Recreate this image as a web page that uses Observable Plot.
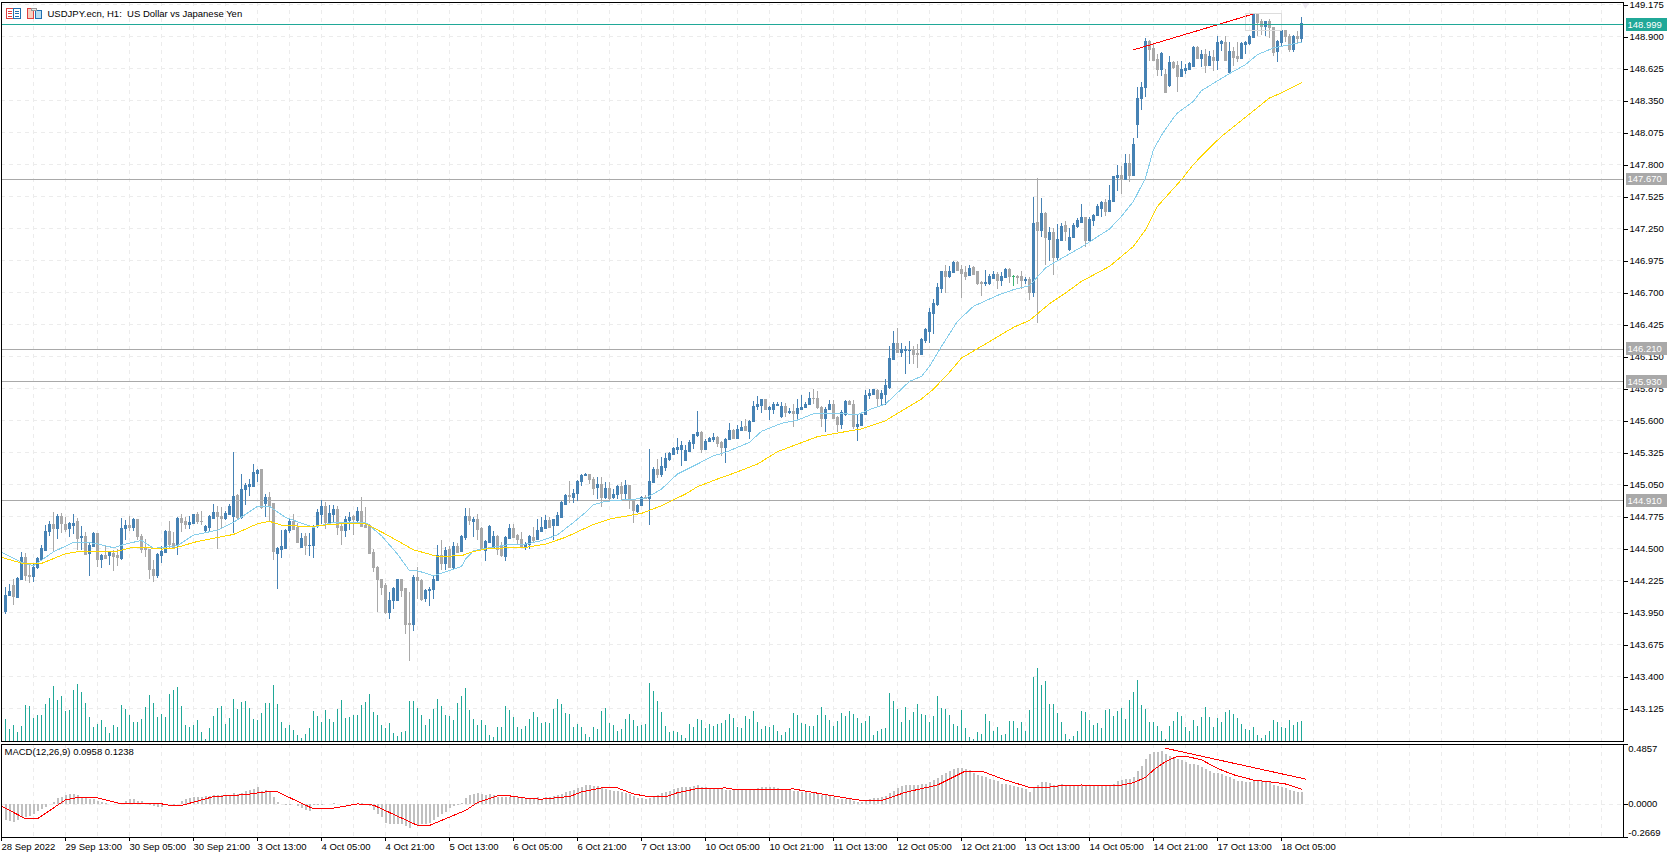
<!DOCTYPE html>
<html><head><meta charset="utf-8">
<script src="https://cdn.jsdelivr.net/npm/d3@7"></script>
<script src="https://cdn.jsdelivr.net/npm/@observablehq/plot@0.6"></script>
<style>
html,body{margin:0;padding:0;background:#fff;overflow:hidden}
#chart{position:relative;width:1674px;height:855px}
#chart svg{position:absolute;left:0;max-width:none;white-space:pre}
</style></head><body><div id="chart"></div>
<script>
const title="USDJPY.ecn, H1:  US Dollar vs Japanese Yen";
const macdTitle="MACD(12,26,9) 0.0958 0.1238";
const priceTicks=[149.175,148.9,148.625,148.35,148.075,147.8,147.525,147.25,146.975,146.7,146.425,146.15,145.875,145.6,145.325,145.05,144.775,144.5,144.225,143.95,143.675,143.4,143.125];
const macdTicks=[0.4857,0,-0.2669];
const timeLabels=["28 Sep 2022","29 Sep 13:00","30 Sep 05:00","30 Sep 21:00","3 Oct 13:00","4 Oct 05:00","4 Oct 21:00","5 Oct 13:00","6 Oct 05:00","6 Oct 21:00","7 Oct 13:00","10 Oct 05:00","10 Oct 21:00","11 Oct 13:00","12 Oct 05:00","12 Oct 21:00","13 Oct 13:00","14 Oct 05:00","14 Oct 21:00","17 Oct 13:00","18 Oct 05:00"];
const grayLevels=[147.67,146.21,145.93,144.91];
const bidLevel=148.999;
// candle direction: u up, d down, n doji
const directions=["uuduuddu"+"uu","uududduudu","duudududdu","ududddddu"+"u","uddudduudd","uuuddu"+"uudu","uuuududdu"+"u","uudduduuuu","duudduudud","dddddduuud","dduddu"+"uuud","ududuududd","uuudduuddd","uuduuuduuu","uduuuudd"+"ud","uduududduu","duuduuuuuu","uuuuduuudd","uuduuduuuu","duuuududuu","uuddduuddu","uddu"+"uuuudu","uuuduuuddu","uuuuuduudd","duddduuudu","udnddududu","duduuduuuu","duuuuduuud","uduuuuddd"+"u","dudduuuudu","duduududdu","uuuddudduu","ddudu"].join("");
const highs=[144.165,144.194,144.237,144.251,144.466,144.460,144.366,144.366,144.423,144.529,144.701,144.732,144.810,144.795,144.804,144.767,144.724,144.787,144.758,144.692,
144.638,144.538,144.638,144.624,144.449,144.523,144.477,144.480,144.489,144.758,144.738,144.775,144.758,144.747,144.621,144.580,144.489,144.394,144.452,144.517,
144.652,144.727,144.638,144.767,144.795,144.767,144.772,144.795,144.810,144.815,144.701,144.781,144.881,144.861,144.853,144.815,144.873,145.325,144.967,145.139,
145.059,145.096,145.217,145.176,145.182,144.959,144.976,144.890,144.509,144.652,144.666,144.752,144.795,144.718,144.624,144.624,144.632,144.695,144.838,144.910,
144.896,144.867,144.867,144.861,144.724,144.775,144.810,144.781,144.853,144.939,144.853,144.709,144.494,144.346,144.237,144.202,144.122,144.168,144.237,144.237,
144.159,144.122,144.271,144.337,144.237,144.145,144.162,144.265,144.523,144.566,144.509,144.518,144.552,144.538,144.615,144.847,144.847,144.767,144.787,144.681,
144.566,144.701,144.644,144.609,144.551,144.600,144.709,144.709,144.623,144.637,144.551,144.609,144.680,144.746,144.766,144.780,144.766,144.752,144.809,144.901,
144.967,145.078,145.010,145.081,145.136,145.144,145.139,145.110,145.110,145.110,145.067,145.067,145.004,145.038,145.067,145.081,145.044,144.924,144.878,144.947,
144.958,145.353,145.196,145.267,145.282,145.316,145.325,145.365,145.448,145.416,145.388,145.431,145.482,145.674,145.505,145.439,145.454,145.485,145.459,145.416,
145.445,145.577,145.525,145.554,145.591,145.611,145.597,145.763,145.806,145.783,145.783,145.720,145.755,145.755,145.755,145.746,145.703,145.740,145.783,145.812,
145.755,145.840,145.869,145.852,145.717,145.712,145.769,145.769,145.631,145.689,145.769,145.769,145.769,145.640,145.669,145.855,145.863,145.869,145.869,145.855,
145.955,146.236,146.365,146.385,146.259,146.236,146.281,146.236,146.250,146.307,146.393,146.559,146.637,146.780,146.880,146.929,146.923,146.966,146.966,146.929,
146.923,146.929,146.923,146.877,146.791,146.886,146.849,146.877,146.872,146.872,146.906,146.903,146.843,146.843,146.880,146.829,146.826,147.513,147.674,147.505,
147.382,147.253,147.247,147.281,147.290,147.307,147.247,147.290,147.333,147.453,147.341,147.339,147.367,147.453,147.482,147.496,147.617,147.697,147.788,147.783,
147.883,147.883,148.023,148.461,148.501,148.877,148.863,148.828,148.742,148.757,148.613,148.725,148.685,148.679,148.679,148.656,148.676,148.814,148.814,148.779,
148.785,148.765,148.779,148.897,148.863,148.894,148.845,148.800,148.848,148.848,148.857,148.906,149.092,149.092,149.043,149.029,149.043,148.974,148.863,148.957,
148.949,148.914,148.906,148.943,149.060];
const bodyHighs=[144.099,144.128,144.185,144.245,144.426,144.426,144.271,144.340,144.409,144.503,144.649,144.709,144.709,144.770,144.770,144.709,144.712,144.718,144.727,144.598,
144.598,144.523,144.624,144.624,144.443,144.443,144.463,144.460,144.443,144.675,144.701,144.701,144.747,144.744,144.601,144.500,144.489,144.323,144.446,144.472,
144.644,144.641,144.538,144.758,144.758,144.727,144.724,144.787,144.787,144.735,144.689,144.770,144.810,144.810,144.775,144.804,144.856,144.947,144.953,145.010,
145.039,145.045,145.148,145.168,145.176,144.933,144.933,144.890,144.503,144.520,144.658,144.735,144.735,144.678,144.589,144.598,144.529,144.678,144.810,144.864,
144.864,144.804,144.838,144.838,144.684,144.752,144.767,144.770,144.818,144.821,144.695,144.695,144.466,144.337,144.234,144.177,144.053,144.159,144.231,144.231,
144.159,143.859,144.254,144.254,144.228,144.139,144.151,144.237,144.443,144.443,144.486,144.494,144.515,144.518,144.598,144.770,144.770,144.752,144.752,144.675,
144.558,144.689,144.600,144.603,144.523,144.594,144.674,144.674,144.609,144.580,144.537,144.600,144.594,144.657,144.683,144.743,144.743,144.746,144.786,144.895,
144.952,144.952,144.975,145.075,145.130,145.139,145.133,145.096,145.053,145.053,145.018,145.018,144.967,145.032,145.030,145.038,145.038,144.924,144.872,144.941,
144.938,145.078,145.182,145.182,145.204,145.273,145.316,145.359,145.365,145.388,145.345,145.411,145.477,145.499,145.497,145.422,145.445,145.456,145.454,145.411,
145.436,145.517,145.517,145.520,145.540,145.551,145.591,145.723,145.732,145.775,145.775,145.709,145.732,145.740,145.717,145.717,145.680,145.680,145.703,145.714,
145.740,145.792,145.792,145.792,145.712,145.697,145.740,145.740,145.625,145.669,145.760,145.760,145.740,145.568,145.651,145.817,145.835,145.863,145.855,145.829,
145.903,146.130,146.259,146.259,146.207,146.207,146.204,146.198,146.173,146.293,146.379,146.525,146.602,146.740,146.877,146.877,146.877,146.955,146.955,146.895,
146.869,146.903,146.912,146.877,146.783,146.783,146.834,146.852,146.852,146.834,146.895,146.895,146.834,146.834,146.834,146.809,146.809,147.290,147.299,147.376,
147.376,147.213,147.213,147.152,147.264,147.273,147.170,147.273,147.316,147.341,147.341,147.324,147.359,147.436,147.473,147.473,147.488,147.691,147.703,147.703,
147.806,147.806,147.974,148.367,148.461,148.857,148.857,148.794,148.699,148.748,148.570,148.673,148.673,148.648,148.613,148.622,148.665,148.805,148.805,148.742,
148.742,148.728,148.716,148.845,148.854,148.845,148.768,148.768,148.725,148.837,148.845,148.900,149.086,149.086,149.026,149.026,149.026,148.974,148.854,148.949,
148.949,148.897,148.897,148.894,149.009];
const bodyLows=[143.956,144.093,144.088,144.079,144.237,144.265,144.257,144.257,144.334,144.403,144.480,144.644,144.669,144.669,144.712,144.666,144.669,144.701,144.589,144.592,
144.449,144.452,144.518,144.406,144.406,144.409,144.443,144.434,144.420,144.417,144.669,144.678,144.678,144.601,144.489,144.489,144.317,144.271,144.271,144.437,
144.466,144.532,144.500,144.535,144.724,144.709,144.709,144.718,144.730,144.730,144.652,144.678,144.761,144.775,144.761,144.758,144.795,144.770,144.767,144.767,
145.005,145.028,145.036,145.142,144.853,144.884,144.867,144.472,144.460,144.494,144.503,144.652,144.661,144.552,144.509,144.523,144.523,144.523,144.689,144.792,
144.724,144.724,144.795,144.681,144.655,144.658,144.738,144.752,144.738,144.689,144.681,144.460,144.334,144.231,144.162,143.945,143.945,144.051,144.053,144.142,
143.850,143.847,143.844,144.228,144.065,144.071,144.134,144.145,144.228,144.366,144.366,144.337,144.337,144.466,144.472,144.595,144.738,144.735,144.666,144.489,
144.480,144.552,144.509,144.494,144.437,144.431,144.588,144.594,144.574,144.511,144.511,144.537,144.566,144.574,144.646,144.672,144.680,144.694,144.694,144.766,
144.881,144.947,144.941,144.969,145.075,145.124,145.096,145.015,145.021,144.938,144.938,144.932,144.941,144.961,144.975,144.972,144.929,144.823,144.815,144.866,
144.929,144.929,145.067,145.136,145.133,145.199,145.267,145.310,145.351,145.353,145.259,145.333,145.405,145.471,145.353,145.353,145.422,145.439,145.405,145.371,
145.371,145.434,145.448,145.445,145.517,145.511,145.505,145.591,145.717,145.726,145.692,145.692,145.697,145.729,145.631,145.669,145.669,145.663,145.663,145.697,
145.709,145.737,145.786,145.709,145.620,145.620,145.692,145.614,145.563,145.563,145.648,145.734,145.551,145.548,145.560,145.651,145.812,145.826,145.792,145.792,
145.826,145.880,146.121,146.184,146.184,146.196,146.196,146.164,146.167,146.164,146.287,146.365,146.516,146.594,146.731,146.834,146.834,146.872,146.886,146.860,
146.837,146.843,146.857,146.774,146.777,146.777,146.774,146.823,146.800,146.800,146.826,146.834,146.834,146.829,146.800,146.803,146.700,146.700,147.230,147.233,
147.167,147.152,146.998,146.998,147.144,147.221,147.064,147.170,147.264,147.299,147.144,147.144,147.316,147.356,147.422,147.393,147.393,147.479,147.685,147.668,
147.668,147.703,147.702,148.146,148.361,148.456,148.785,148.691,148.613,148.613,148.421,148.476,148.628,148.553,148.553,148.605,148.613,148.639,148.708,148.708,
148.648,148.648,148.691,148.691,148.837,148.691,148.588,148.716,148.708,148.708,148.828,148.837,148.888,149.017,148.983,148.983,148.974,148.757,148.768,148.845,
148.897,148.785,148.785,148.880,148.880];
const lows=[143.936,144.087,144.007,144.073,144.220,144.214,144.202,144.208,144.323,144.394,144.472,144.601,144.466,144.580,144.624,144.638,144.595,144.621,144.480,144.480,
144.437,144.257,144.509,144.337,144.331,144.403,144.357,144.305,144.346,144.394,144.572,144.649,144.649,144.566,144.460,144.423,144.237,144.208,144.243,144.374,
144.460,144.500,144.489,144.437,144.638,144.666,144.661,144.704,144.709,144.695,144.638,144.638,144.752,144.494,144.666,144.738,144.787,144.632,144.752,144.752,
144.867,144.942,145.033,145.068,144.838,144.767,144.730,144.394,144.151,144.409,144.500,144.632,144.652,144.552,144.500,144.443,144.429,144.409,144.672,144.709,
144.666,144.715,144.718,144.609,144.523,144.595,144.658,144.609,144.709,144.678,144.672,144.460,144.294,143.950,144.093,143.936,143.893,143.979,144.045,144.079,
143.764,143.526,143.784,144.065,144.048,144.036,143.999,144.065,144.220,144.308,144.308,144.328,144.323,144.460,144.466,144.566,144.695,144.595,144.566,144.480,
144.391,144.546,144.500,144.437,144.422,144.385,144.580,144.588,144.523,144.508,144.480,144.488,144.551,144.566,144.637,144.666,144.672,144.566,144.694,144.757,
144.875,144.889,144.889,144.904,145.032,145.118,145.053,144.952,144.918,144.852,144.918,144.909,144.918,144.918,144.901,144.909,144.838,144.717,144.803,144.861,
144.924,144.700,145.067,145.101,145.110,145.161,145.245,145.302,145.310,145.204,145.253,145.325,145.353,145.454,145.319,145.348,145.416,145.411,145.368,145.290,
145.233,145.431,145.439,145.434,145.511,145.505,145.439,145.583,145.683,145.663,145.683,145.603,145.648,145.720,145.620,145.625,145.648,145.540,145.591,145.692,
145.703,145.726,145.732,145.697,145.540,145.497,145.683,145.611,145.497,145.525,145.631,145.726,145.525,145.422,145.548,145.640,145.777,145.812,145.712,145.720,
145.726,145.863,146.121,146.178,146.144,145.992,146.078,146.078,146.044,146.155,146.259,146.264,146.336,146.580,146.694,146.688,146.823,146.860,146.880,146.651,
146.803,146.832,146.852,146.757,146.665,146.751,146.760,146.820,146.723,146.746,146.820,146.780,146.751,146.766,146.723,146.766,146.628,146.654,146.430,147.175,
146.929,146.963,146.843,146.975,147.138,147.138,147.052,147.164,147.250,147.296,147.087,147.138,147.267,147.350,147.347,147.353,147.387,147.468,147.568,147.539,
147.662,147.640,147.693,148.023,148.266,148.370,148.679,148.679,148.556,148.556,148.413,148.456,148.613,148.421,148.547,148.570,148.608,148.633,148.699,148.628,
148.579,148.642,148.599,148.605,148.771,148.685,148.579,148.636,148.673,148.699,148.742,148.822,148.880,148.900,148.906,148.900,148.885,148.728,148.673,148.814,
148.843,148.757,148.757,148.828,148.845];
// tick volume per bar
const volumes=[66,36,48,27,45,108,105,69,78,78,111,129,165,123,135,91,93,153,171,147,115,72,42,51,63,42,24,48,42,108,96,78,57,57,66,102,138,114,72,81,72,141,153,162,105,48,42,48,63,27,6,39,75,99,105,51,69,126,96,118,120,98,66,63,84,114,114,168,111,57,39,48,33,18,9,21,39,90,75,57,93,66,57,96,123,69,72,78,78,108,117,141,86,78,47,39,54,24,15,27,30,120,120,99,78,48,66,96,126,105,78,75,63,114,135,159,93,66,48,63,48,18,12,42,42,105,93,72,42,36,45,66,87,72,
55,57,55,96,126,111,84,81,42,51,42,21,12,42,36,90,99,54,48,30,36,66,81,63,45,48,51,174,150,120,87,45,27,30,27,18,9,51,42,66,63,39,51,45,51,54,63,81,69,42,39,75,66,90,57,36,45,42,48,30,18,27,39,84,78,54,51,45,45,78,102,78,63,45,60,84,75,90,81,69,54,60,75,18,30,36,39,144,120,96,57,102,63,87,111,81,78,57,75,135,99,96,78,51,45,93,39,12,6,27,21,81,60,30,42,18,21,60,60,39,57,30,93,192,219,168,180,111,111,84,
57,21,6,15,30,90,87,63,48,54,39,93,96,75,90,99,66,123,147,183,108,96,57,57,45,30,6,45,60,87,75,42,30,63,45,72,102,72,42,69,57,87,93,81,69,51,36,33,42,18,9,18,30,63,57,42,39,63,48,57,60];
const macd=[-.129,-.137,-.142,-.129,-.102,-.102,-.094,-.080,-.056,-.043,-.021,0,.019,.046,.059,.072,.080,.080,.072,.059,.048,.043,.038,.027,.016,.005,.003,.003,.005,.011,.024,.038,.043,.027,.021,.011,-.008,-.013,-.021,-.021,-.008,-.003,-.013,0,.024,.040,.048,.056,.059,.059,.064,.062,.070,.075,.070,.070,.072,.086,.078,.086,.107,.113,.121,.134,.107,.113,.094,.059,.019,0,-.005,-.008,-.003,-.016,-.035,-.048,-.054,-.008,-.008,-.008,-.003,0,.005,-.003,-.003,0,0,.003,.003,.005,.003,-.016,-.048,-.080,-.102,-.155,-.161,-.161,-.161,-.161,-.177,-.196,-.163,-.177,-.163,-.163,-.150,-.129,-.102,-.080,-.062,-.035,-.013,-.005,.011,.046,.072,.083,.086,.080,.075,.080,.072,.059,.054,.054,.059,.064,.054,.046,.046,.046,.046,.054,
.043,.056,.056,.067,.075,.080,.094,.105,.113,.131,.139,.153,.153,.145,.145,.134,.118,.113,.105,.102,.096,.091,.080,.064,.051,.046,.043,.051,.059,.072,.086,.096,.102,.118,.129,.134,.134,.134,.145,.150,.139,.134,.129,.129,.126,.118,.113,.113,.113,.118,.118,.118,.113,.121,.129,.134,.134,.134,.134,.129,.123,.118,.113,.105,.102,.096,.096,.091,.091,.083,.072,.075,.070,.054,.043,.040,.040,.040,.027,.016,.016,.032,.040,.046,.048,.056,.064,.086,.107,.129,.145,.153,.153,.153,.153,.161,.166,.177,.198,.214,.236,.252,.268,.284,.289,.289,.284,.273,.252,.236,.225,.220,.204,.193,.185,.166,.166,.153,.147,.139,.129,.118,.099,.137,.153,.177,.177,.172,.155,.155,
.161,.155,.155,.153,.150,.150,.150,.147,.147,.147,.147,.147,.150,.166,.185,.193,.201,.201,.217,.268,.306,.364,.402,.418,.421,.426,.402,.391,.375,.362,.354,.338,.322,.322,.314,.297,.281,.265,.249,.249,.241,.225,.217,.201,.185,.185,.177,.177,.185,.185,.185,.185,.177,.153,.145,.137,.129,.113,.105,.096,.0958];
const signalBars=[-1,5,8,15,18,23,29,38,42,44,52,60,65,68,77,81,88,92,103,106,115,118,123,126,131,134,139,141,144,149,153,157,161,165,168,173,180,183,188,197,204,211,215,219,225,233,240,244,250,256,259,264,269,270,278,282,285,287,290,293,295,299,303,307,312,317,320,324];
const signalValues=[-.013,-.115,-.115,.038,.056,.054,.005,.011,-.011,-.008,.064,.080,.102,.102,-.035,-.035,.005,-.005,-.169,-.169,-.048,.016,.070,.070,.048,.043,.059,.064,.102,.134,.134,.086,.062,.062,.096,.129,.134,.118,.118,.126,.086,.048,.029,.032,.099,.158,.271,.271,.198,.139,.134,.153,.158,.150,.150,.177,.220,.279,.348,.391,.391,.362,.292,.241,.198,.180,.166,.1238];
const fastBars=[-1,4,7,12,17,22,27,30,34,37,43,47,53,57,63,66,70,77,82,90,94,98,101,103,107,110,114,115,117,120,125,130,134,138,142,145,147,150,155,160,164,168,173,177,180,186,189,194,198,202,207,213,216,220,224,226,229,231,234,238,242,248,252,256,260,262,269,276,279,282,285,287,289,292,293,297,299,302,306,310,313,317,319,324];
const fastValues=[144.466,144.380,144.351,144.471,144.551,144.546,144.506,144.537,144.569,144.500,144.523,144.614,144.657,144.723,144.861,144.861,144.766,144.680,144.723,144.723,144.609,144.451,144.308,144.308,144.265,144.299,144.345,144.408,144.480,144.5,144.529,144.537,144.566,144.617,144.723,144.809,144.875,144.904,144.918,144.930,145.010,145.139,145.225,145.296,145.325,145.411,145.506,145.574,145.603,145.657,145.663,145.649,145.692,145.741,145.869,145.935,145.978,146.064,146.236,146.451,146.580,146.674,146.723,146.757,146.909,146.952,147.089,147.244,147.353,147.482,147.683,147.926,148.05,148.2,148.241,148.341,148.433,148.496,148.579,148.656,148.742,148.8,148.814,148.848];
const slowBars=[-1,4,9,15,19,28,32,35,39,42,48,57,63,66,69,76,82,90,95,99,102,108,114,117,121,130,135,140,147,151,159,164,170,173,178,182,188,193,203,209,214,220,229,232,236,239,243,252,256,261,265,269,276,282,285,288,294,297,301,304,311,316,319,324];
const slowValues=[144.423,144.374,144.371,144.454,144.477,144.477,144.511,144.508,144.494,144.500,144.560,144.620,144.712,144.732,144.700,144.686,144.709,144.712,144.623,144.546,144.488,144.431,144.437,144.474,144.5,144.509,144.537,144.595,144.706,144.752,144.801,144.867,144.967,145.030,145.096,145.145,145.225,145.331,145.460,145.497,145.526,145.597,145.784,145.869,146.013,146.135,146.216,146.399,146.459,146.602,146.694,146.794,146.923,147.095,147.238,147.439,147.668,147.80,147.94,148.04,148.232,148.370,148.413,148.502];
const priceTrendBars=[282,312], priceTrendValues=[148.783,149.092];
const macdTrendBars=[290,325], macdTrendValues=[.4555,.206];
const boxBars=[310,319], boxValues=[149.092,148.943];

const BLUE="#4682b4",GRAY="#a9a9a9",GRID="#ececec",TEAL="#20a898",RED="#ff0000";
const FONT="Liberation Sans", FS="9.5px";
const bars=d3.range(highs.length);
const barColor=i=>directions[i]==="u"?BLUE:directions[i]==="d"?GRAY:"#3cb371";
const xDomain=[-1,404.5];
const vTicks=d3.range(-1,405,8);
const labelBars=timeLabels.map((_,k)=>-1+16*k);
const style={fontFamily:FONT,fontSize:FS,background:"transparent",color:"#000"};
const crisp={shapeRendering:"crispEdges"};
const ln=(x,y,stroke)=>Plot.line(x.map((b,k)=>[b,y[k]]),{x:"0",y:"1",stroke,strokeWidth:1,...crisp});

const main=Plot.plot({width:1674,height:742,marginLeft:1,marginRight:51,marginTop:2,marginBottom:1,style,
 x:{domain:xDomain,axis:null},
 y:{domain:[142.841,149.190],axis:null},
 marks:[
  Plot.ruleX(vTicks,{stroke:GRID,strokeDasharray:"4,4",...crisp}),
  Plot.ruleY(priceTicks,{stroke:GRID,strokeDasharray:"4,4",...crisp}),
  Plot.ruleY(grayLevels,{stroke:GRAY,...crisp}),
  Plot.ruleX(bars,{x:i=>i,y1:i=>lows[i],y2:i=>highs[i],stroke:barColor,...crisp}),
  Plot.ruleX(bars,{x:i=>i,y1:i=>bodyLows[i],y2:i=>bodyHighs[i],stroke:barColor,strokeWidth:3,...crisp}),
  Plot.ruleY(bars,{y:i=>bodyHighs[i],x1:i=>i-.375,x2:i=>i+.375,stroke:barColor,...crisp}),
  Plot.ruleY(bars,{y:i=>bodyLows[i],x1:i=>i-.375,x2:i=>i+.375,stroke:barColor,...crisp}),
  ln(fastBars,fastValues,"#87ceeb"),
  ln(slowBars,slowValues,"#ffd700"),
  ln(priceTrendBars,priceTrendValues,RED),
  Plot.rect([0],{x1:boxBars[0],x2:boxBars[1],y1:boxValues[1],y2:boxValues[0],fill:"none",stroke:"#dddddd",...crisp}),
  Plot.dot([0],{x:()=>325,y:()=>149.175,symbol:"triangle",rotate:180,r:3,fill:"#ece8f0"}),
  Plot.ruleY([bidLevel],{stroke:TEAL,...crisp}),
  Plot.axisY(priceTicks,{anchor:"right",tickSize:4,tickPadding:2,dy:1,tickFormat:d=>d.toFixed(3),label:null,...crisp}),
  Plot.frame({stroke:"#000",...crisp}),
  Plot.rect(grayLevels,{x1:()=>405.2,x2:()=>415.5,y1:d=>d-.055,y2:d=>d+.055,fill:GRAY,...crisp}),
  Plot.rect([bidLevel],{x1:()=>405.2,x2:()=>415.5,y1:d=>d-.055,y2:d=>d+.055,fill:TEAL,...crisp}),
  Plot.text(grayLevels.concat(bidLevel),{x:()=>405.5,y:d=>d,text:d=>d.toFixed(3),fill:"#fff",textAnchor:"start"}),
  Plot.text([title],{frameAnchor:"top-left",dx:46,dy:8,textAnchor:"start"})
 ]});
main.style.top="0px";

// volume layer: same bar positions, ends at the chart's right edge so it does not cover the axis labels
const vol=Plot.plot({width:1624,height:742,marginLeft:1,marginRight:1,marginTop:2,marginBottom:1,style,
 x:{domain:xDomain,axis:null},
 y:{domain:[0,2217],axis:null},
 marks:[Plot.ruleX(volumes,{x:(d,i)=>i,y1:()=>0,y2:d=>d,stroke:TEAL,...crisp})]});
vol.style.top="0px";

const sub=Plot.plot({width:1674,height:113,marginLeft:1,marginRight:51,marginTop:2,marginBottom:18,style,
 x:{domain:xDomain,axis:null},
 y:{domain:[-.2669,.4857],axis:null},
 marks:[
  Plot.ruleX(vTicks,{stroke:GRID,strokeDasharray:"4,4",...crisp}),
  Plot.ruleY([0],{stroke:GRID,strokeDasharray:"4,4",...crisp}),
  Plot.ruleX(macd,{x:(d,i)=>i,y1:()=>0,y2:d=>d,stroke:"#c0c0c0",strokeWidth:2,...crisp}),
  ln(signalBars,signalValues,RED),
  ln(macdTrendBars,macdTrendValues,RED),
  Plot.axisY(macdTicks,{anchor:"right",tickSize:4,tickFormat:()=>"",label:null,...crisp}),
  Plot.text([macdTicks[0]],{x:()=>405.7,y:d=>d,text:d=>d.toFixed(4),textAnchor:"start",dy:4}),
  Plot.text([macdTicks[1]],{x:()=>405.7,y:d=>d,text:d=>d.toFixed(4),textAnchor:"start",dy:-1}),
  Plot.text([macdTicks[2]],{x:()=>405.7,y:d=>d,text:d=>d.toFixed(4),textAnchor:"start",dy:-5}),
  Plot.axisX(labelBars,{anchor:"bottom",tickSize:4,tickPadding:2,textAnchor:"start",tickFormat:d=>timeLabels[(d+1)/16],label:null,...crisp}),
  Plot.frame({stroke:"#000",...crisp}),
  Plot.text([macdTitle],{frameAnchor:"top-left",dx:3,dy:4,textAnchor:"start"})
 ]});
sub.style.top="742px";

const chart=document.getElementById("chart");
chart.append(main,vol,sub);
chart.insertAdjacentHTML("beforeend",`<svg width="46" height="22" style="top:0;left:0" shape-rendering="crispEdges">
<rect x="6.5" y="8.5" width="7" height="10" fill="#fff" stroke="#e04040"/><path d="M8 11h4M8 13.5h4M8 16h4" stroke="#e04040"/>
<rect x="13.5" y="8.5" width="7" height="10" fill="#fff" stroke="#2070b0"/><path d="M15 11h4M15 13.5h4M15 16h4" stroke="#2070b0"/>
<path d="M27.5 8.5h6v10h-6z" fill="#f8d0c0" stroke="#e04040"/><rect x="35.5" y="10.5" width="6" height="8" fill="#b8dcf0" stroke="#2070b0"/><rect x="31.5" y="8.5" width="5" height="2" fill="#eee" stroke="#999"/>
</svg>`);
</script></body></html>
